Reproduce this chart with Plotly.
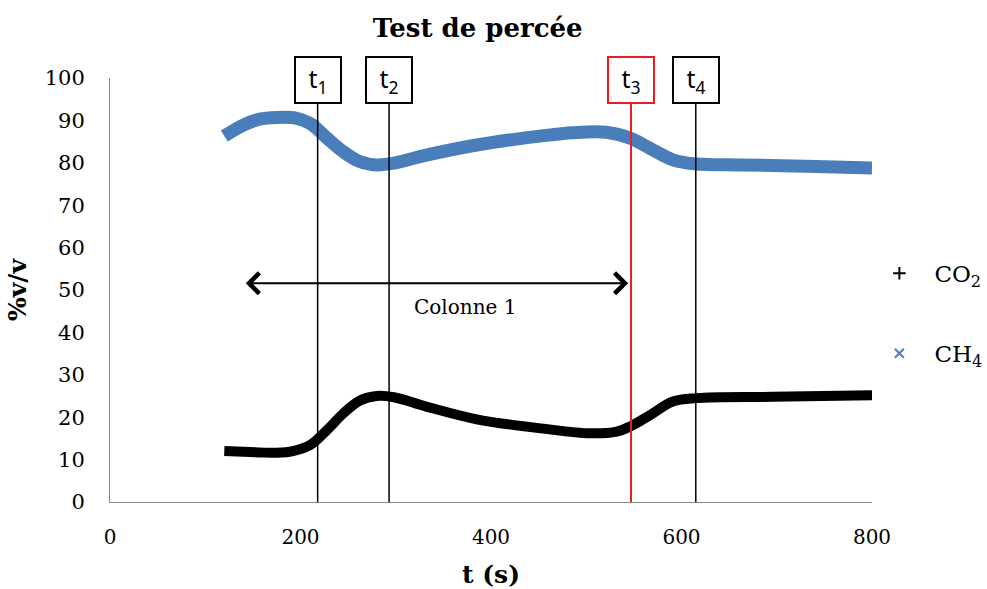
import plotly.graph_objects as go

# data
time_ch4 = [120, 140, 157, 175, 196, 210, 228, 245, 262, 280, 298, 332, 385, 455, 486, 521, 546, 567, 591, 616, 661, 731, 800]
ch4 = [86.3, 88.9, 90.3, 90.7, 90.5, 89.3, 85.8, 82.6, 80.3, 79.5, 79.9, 81.8, 84.2, 86.4, 87.1, 87.2, 85.8, 83.4, 80.7, 79.7, 79.5, 79.2, 78.8]

time_co2 = [120, 157, 175, 192, 210, 228, 245, 262, 280, 298, 332, 385, 455, 504, 532, 546, 567, 591, 616, 696, 800]
co2 = [12.0, 11.7, 11.6, 12.0, 13.4, 17.0, 20.9, 23.9, 25.0, 24.7, 22.5, 19.5, 17.3, 16.2, 16.6, 17.8, 20.5, 23.7, 24.5, 24.8, 25.2]

marker_labels = ['t<sub>1</sub>', 't<sub>2</sub>', 't<sub>3</sub>', 't<sub>4</sub>']
marker_times = [218, 293, 547, 615]
marker_colors = ['black', 'black', '#ED1C24', 'black']

column_label = 'Colonne 1'
column_start, column_end, column_level = 141, 544, 51.6

SERIF = 'DejaVu Serif'
BLUE = '#4A7EBB'


def main():
    fig = go.Figure()

    # thick curves
    fig.add_trace(go.Scatter(x=time_co2, y=co2, mode='lines', line=dict(color='black', width=10, shape='spline'),
                             showlegend=False, hoverinfo='skip'))
    fig.add_trace(go.Scatter(x=time_ch4, y=ch4, mode='lines', line=dict(color=BLUE, width=13, shape='spline'),
                             showlegend=False, hoverinfo='skip'))

    # legend entries (markers only)
    fig.add_trace(go.Scatter(x=[None], y=[None], mode='markers', name='CO<sub>2</sub>', legendgroup='co2',
                             marker=dict(symbol='cross-thin', size=9, color='black', line=dict(color='black', width=2))))
    fig.add_trace(go.Scatter(x=[None], y=[None], mode='markers', name='CH<sub>4</sub>', legendgroup='ch4',
                             marker=dict(symbol='x-thin', size=9, color=BLUE, line=dict(color=BLUE, width=2))))

    # time markers with boxed labels
    for label, t, col in zip(marker_labels, marker_times, marker_colors):
        fig.add_shape(type='line', x0=t, x1=t, y0=0, y1=94, xref='x', yref='y',
                      line=dict(color=col, width=2 if col != 'black' else 1.5), layer='above')
        fig.add_annotation(x=t, y=99.6, xref='x', yref='y', text=label, showarrow=False,
                           font=dict(family='Noto Sans', size=25, color='black'),
                           width=44, height=44, bordercolor=col, borderwidth=2, borderpad=0,
                           bgcolor='white')

    # double arrow for column 1
    fig.add_annotation(x=column_end, y=column_level, ax=column_start, ay=column_level,
                       xref='x', yref='y', axref='x', ayref='y', text='', showarrow=True,
                       arrowhead=4, startarrowhead=4, arrowside='end+start', arrowwidth=2,
                       arrowsize=2.0, startarrowsize=2.0, arrowcolor='black')
    fig.add_annotation(x=373, y=46, xref='x', yref='y', text=column_label,
                       showarrow=False, font=dict(family=SERIF, size=20, color='black'))

    fig.update_layout(
        width=987, height=589,
        margin=dict(l=110, r=115, t=78, b=87, autoexpand=False),
        plot_bgcolor='white', paper_bgcolor='white',
        title=dict(text='<b>Test de percée</b>', font=dict(family=SERIF, size=26, color='black'),
                   x=0.484, xanchor='center', y=0.953, yanchor='middle'),
        xaxis=dict(range=[0, 800], tickvals=[0, 200, 400, 600, 800], showgrid=False, zeroline=False,
                   showline=True, linecolor='#868686', linewidth=1, ticks='', ticklabelstandoff=17,
                   automargin=False,
                   tickfont=dict(family=SERIF, size=20, color='black'),
                   title=dict(text='<b>t (s)</b>', font=dict(family=SERIF, size=25, color='black'), standoff=19)),
        yaxis=dict(range=[0, 100], dtick=10, showgrid=False, zeroline=False,
                   showline=True, linecolor='#868686', linewidth=1, ticks='', ticklabelstandoff=20,
                   automargin=False,
                   tickfont=dict(family=SERIF, size=21, color='black'),
                   title=dict(text='<b>%v/v</b>', font=dict(family=SERIF, size=25, color='black'), standoff=10)),
        legend=dict(x=0.99, xanchor='left', y=0.59, yanchor='top', traceorder='grouped', tracegroupgap=47,
                    font=dict(family=SERIF, size=23, color='black'), itemwidth=60),
        showlegend=True,
    )
    # drop the browser's default body margin so the figure sits at the page corner
    fig.write_html('out.html', config={'displayModeBar': False},
                   post_script="document.body.style.margin='0';")


if __name__ == '__main__':
    main()
